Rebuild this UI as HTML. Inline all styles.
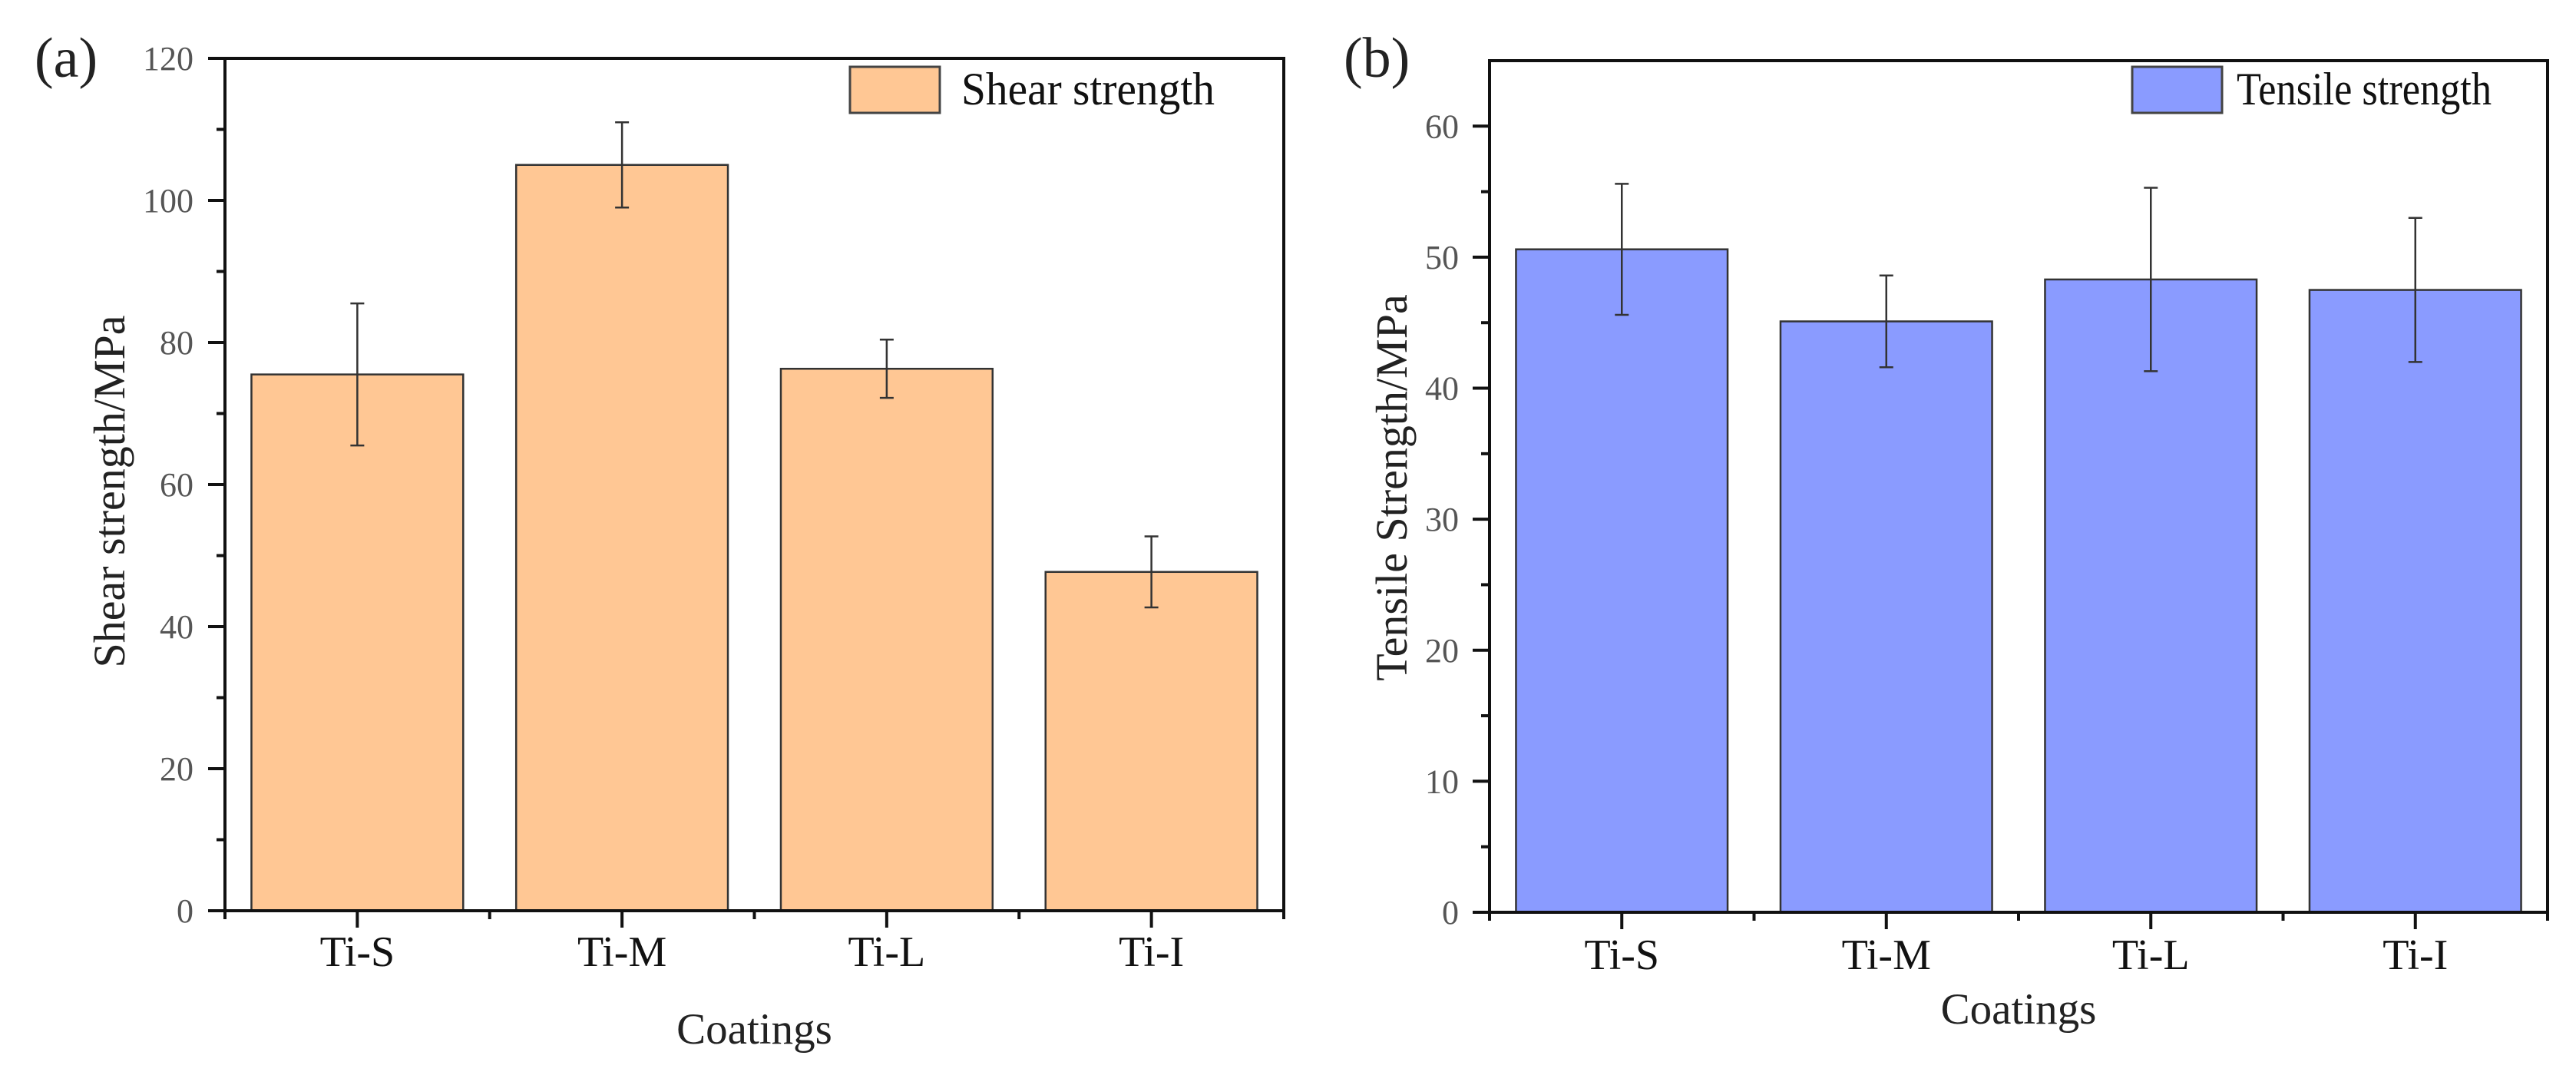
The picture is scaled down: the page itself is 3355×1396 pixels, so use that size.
<!DOCTYPE html>
<html><head><meta charset="utf-8"><style>
html,body{margin:0;padding:0;background:#fff;}
svg{display:block;}
text{font-family:"Liberation Serif",serif;}
</style></head><body>
<svg id="fig" width="3355" height="1396" viewBox="0 0 3355 1396" xmlns="http://www.w3.org/2000/svg"></svg>
<script>
const categories = ["Ti-S","Ti-M","Ti-L","Ti-I"];
const shearValues = [75.5, 105.0, 76.3, 47.7];
const shearErrors = [10.0, 6.0, 4.1, 5.0];
const tensileValues = [50.6, 45.1, 48.3, 47.5];
const tensileErrors = [5.0, 3.5, 7.0, 5.5];
const shearTicks = [0,20,40,60,80,100,120];
const tensileTicks = [0,10,20,30,40,50,60];

const NS = "http://www.w3.org/2000/svg";
const svg = document.getElementById("fig");
function mk(tag, attrs, parent, text){
  const e = document.createElementNS(NS, tag);
  for (const k in attrs) e.setAttribute(k, attrs[k]);
  if (text !== undefined) e.textContent = text;
  (parent||svg).appendChild(e);
  return e;
}

function panel(cfg){
  const g = mk("g", {});
  
  
  const {x0,x1,y0,y1,ymax} = cfg;
  const yS = v => y1 - (v/ymax)*(y1-y0);
  const band = (x1-x0)/categories.length;
  const xC = i => x0 + band*(i+0.5);
  const bw = band*0.8;

  categories.forEach((c,i)=>{
    const r = mk("rect", {x:xC(i)-bw/2, y:yS(cfg.values[i]), width:bw, height:y1-yS(cfg.values[i]), fill:cfg.fill, stroke:"#333", "stroke-width":2.5}, g);
    
    
  });
  categories.forEach((c,i)=>{
    const eg = mk("g", {stroke:"#333","stroke-width":2.5}, g);
    
    
    const hi = yS(cfg.values[i]+cfg.errors[i]), lo = yS(cfg.values[i]-cfg.errors[i]);
    mk("line",{x1:xC(i),x2:xC(i),y1:hi,y2:lo},eg);
    mk("line",{x1:xC(i)-9,x2:xC(i)+9,y1:hi,y2:hi},eg);
    mk("line",{x1:xC(i)-9,x2:xC(i)+9,y1:lo,y2:lo},eg);
  });
  const fr = mk("rect",{x:x0,y:y0,width:x1-x0,height:y1-y0,fill:"none",stroke:"#111","stroke-width":4},g);
  
  
  const yt = mk("g",{},g);
  
  
  cfg.ticks.forEach((t,k)=>{
    mk("line",{x1:x0-22,x2:x0,y1:yS(t),y2:yS(t),stroke:"#111","stroke-width":4},yt);
    const lb = mk("text",{x:cfg.tickRight,y:yS(t)+15,"text-anchor":"end","font-size":44,fill:"#555"},yt,String(t));
    
    
    if (k < cfg.ticks.length-1){
      const m = (t + cfg.ticks[k+1])/2;
      mk("line",{x1:x0-11,x2:x0,y1:yS(m),y2:yS(m),stroke:"#111","stroke-width":4},yt);
    }
  });
  const xt = mk("g",{},g);
  
  
  categories.forEach((c,i)=>{
    mk("line",{x1:xC(i),x2:xC(i),y1:y1,y2:y1+22,stroke:"#111","stroke-width":4},xt);
    mk("line",{x1:x0+band*i,x2:x0+band*i,y1:y1,y2:y1+11,stroke:"#111","stroke-width":4},xt);
    const lb = mk("text",{x:xC(i),y:cfg.xlabBase,"text-anchor":"middle","font-size":56,fill:"#111"},xt,c);
    
    
  });
  mk("line",{x1:x1,x2:x1,y1:y1,y2:y1+11,stroke:"#111","stroke-width":4},xt);
  const xtit = mk("text",{x:(x0+x1)/2,y:cfg.xtitBase,"text-anchor":"middle","font-size":57,fill:"#222"},g,"Coatings");
  
  
  const ytit = mk("text",{x:0,y:0,"text-anchor":"middle","font-size":58,fill:"#222",transform:`translate(${cfg.ytitX},${cfg.ytitY}) rotate(-90)`},g,cfg.ytitle);
  
  
  const pl = mk("text",{x:cfg.labX,y:100,"font-size":74,fill:"#222"},g,cfg.label);
  
  
  const lg = mk("g",{},g);
  
  
  mk("rect",{x:cfg.legX,y:87,width:117,height:60,fill:cfg.fill,stroke:"#444","stroke-width":3},lg);
  mk("text",{x:cfg.legTX,y:136,"font-size":60,fill:"#111",textLength:cfg.legW,lengthAdjust:"spacingAndGlyphs"},lg,cfg.legText);
}

panel({name:"shear-panel",x0:293,x1:1672,y0:76,y1:1186,ymax:120,values:shearValues,errors:shearErrors,ticks:shearTicks,fill:"#FFC794",tickRight:252,xlabBase:1258,xtitBase:1359,ytitX:162,ytitY:640,ytitle:"Shear strength/MPa",labX:45,label:"(a)",legX:1107,legTX:1252,legW:330,legText:"Shear strength"});
panel({name:"tensile-panel",x0:1940,x1:3318,y0:79,y1:1188,ymax:65,values:tensileValues,errors:tensileErrors,ticks:tensileTicks,fill:"#8A9BFF",tickRight:1900,xlabBase:1262,xtitBase:1333,ytitX:1832,ytitY:635,ytitle:"Tensile Strength/MPa",labX:1750,label:"(b)",legX:2777,legTX:2913,legW:332,legText:"Tensile strength"});
</script>
</body></html>
